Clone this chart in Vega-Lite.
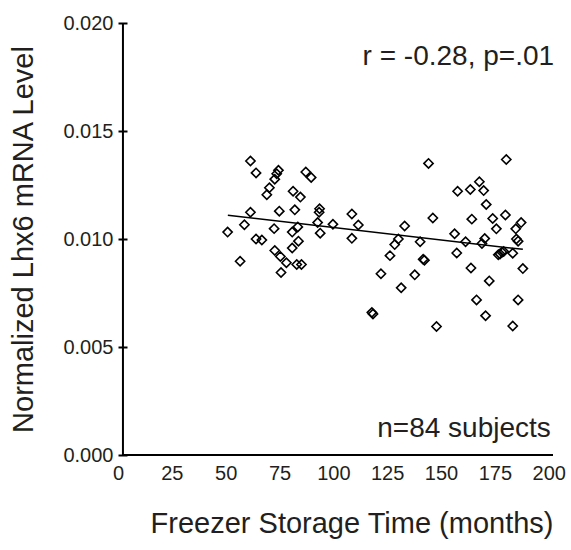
{
  "$schema": "https://vega.github.io/schema/vega-lite/v6.json",
  "width": 435,
  "height": 432,
  "autosize": {"type": "none"},
  "padding": {"left": 118, "top": 23, "right": 18, "bottom": 95},
  "config": {
    "view": {"stroke": null},
    "font": "Liberation Sans",
    "axis": {"grid": false}
  },
  "datasets": {
    "points": [
      {"months": 50.9, "level": 0.01032},
      {"months": 56.7, "level": 0.00897},
      {"months": 58.7, "level": 0.01066},
      {"months": 61.5, "level": 0.01124},
      {"months": 61.5, "level": 0.01361},
      {"months": 64.1, "level": 0.01306},
      {"months": 64.1, "level": 0.01000},
      {"months": 66.8, "level": 0.00995},
      {"months": 69.1, "level": 0.01205},
      {"months": 70.3, "level": 0.01237},
      {"months": 72.8, "level": 0.01277},
      {"months": 73.7, "level": 0.01302},
      {"months": 74.5, "level": 0.01318},
      {"months": 72.5, "level": 0.01048},
      {"months": 72.8, "level": 0.00947},
      {"months": 74.9, "level": 0.01129},
      {"months": 75.4, "level": 0.00919},
      {"months": 75.7, "level": 0.00845},
      {"months": 78.2, "level": 0.00890},
      {"months": 80.9, "level": 0.00958},
      {"months": 81.3, "level": 0.01221},
      {"months": 82.1, "level": 0.01135},
      {"months": 80.9, "level": 0.01032},
      {"months": 83.5, "level": 0.01056},
      {"months": 83.8, "level": 0.00990},
      {"months": 84.7, "level": 0.01194},
      {"months": 83.0, "level": 0.00882},
      {"months": 85.2, "level": 0.00882},
      {"months": 87.2, "level": 0.01310},
      {"months": 89.7, "level": 0.01285},
      {"months": 92.7, "level": 0.01076},
      {"months": 93.4, "level": 0.01124},
      {"months": 93.6, "level": 0.01140},
      {"months": 93.9, "level": 0.01027},
      {"months": 99.8, "level": 0.01068},
      {"months": 108.6, "level": 0.01116},
      {"months": 108.6, "level": 0.01003},
      {"months": 111.6, "level": 0.01065},
      {"months": 117.9, "level": 0.00660},
      {"months": 118.4, "level": 0.00653},
      {"months": 122.1, "level": 0.00839},
      {"months": 126.3, "level": 0.00923},
      {"months": 128.5, "level": 0.00974},
      {"months": 130.2, "level": 0.01000},
      {"months": 131.5, "level": 0.00774},
      {"months": 133.1, "level": 0.01060},
      {"months": 137.8, "level": 0.00834},
      {"months": 140.3, "level": 0.00987},
      {"months": 141.7, "level": 0.00906},
      {"months": 142.3, "level": 0.00902},
      {"months": 144.2, "level": 0.01350},
      {"months": 146.2, "level": 0.01097},
      {"months": 147.9, "level": 0.00595},
      {"months": 156.3, "level": 0.01024},
      {"months": 157.3, "level": 0.00935},
      {"months": 157.7, "level": 0.01221},
      {"months": 161.4, "level": 0.00987},
      {"months": 163.6, "level": 0.01229},
      {"months": 163.9, "level": 0.00866},
      {"months": 164.3, "level": 0.01092},
      {"months": 166.5, "level": 0.00718},
      {"months": 167.8, "level": 0.01265},
      {"months": 169.0, "level": 0.00979},
      {"months": 169.8, "level": 0.01224},
      {"months": 170.3, "level": 0.01002},
      {"months": 170.7, "level": 0.00645},
      {"months": 171.0, "level": 0.01160},
      {"months": 172.4, "level": 0.00806},
      {"months": 174.0, "level": 0.01095},
      {"months": 175.7, "level": 0.01047},
      {"months": 176.6, "level": 0.00927},
      {"months": 177.4, "level": 0.00931},
      {"months": 178.3, "level": 0.00939},
      {"months": 179.1, "level": 0.00942},
      {"months": 179.9, "level": 0.01111},
      {"months": 180.3, "level": 0.01368},
      {"months": 183.3, "level": 0.00934},
      {"months": 183.3, "level": 0.00597},
      {"months": 184.7, "level": 0.01047},
      {"months": 185.0, "level": 0.01000},
      {"months": 185.8, "level": 0.00990},
      {"months": 185.8, "level": 0.00718},
      {"months": 187.2, "level": 0.01076},
      {"months": 188.0, "level": 0.00863}
    ],
    "fit": [
      {"months": 51, "level": 0.01110},
      {"months": 188, "level": 0.00952}
    ],
    "blank": [{}]
  },
  "layer": [
    {
      "data": {"name": "points"},
      "mark": {"type": "point", "shape": "diamond", "filled": false, "size": 85, "strokeWidth": 1.6, "color": "#000000", "opacity": 1},
      "encoding": {
        "x": {
          "field": "months", "type": "quantitative",
          "scale": {"domain": [0, 202], "nice": false, "zero": false},
          "axis": {
            "domain": false, "ticks": false, "tickSize": 0,
            "values": [0, 25, 50, 75, 100, 125, 150, 175, 200],
            "labelFlush": false, "labelOverlap": false,
            "labelPadding": 8, "labelFontSize": 20, "labelColor": "#231f20",
            "title": "Freezer Storage Time (months)",
            "titleFontSize": 29, "titleFontWeight": "normal", "titleColor": "#231f20",
            "titlePadding": 26, "titleAnchor": "end"
          }
        },
        "y": {
          "field": "level", "type": "quantitative",
          "scale": {"domain": [0, 0.02], "nice": false, "zero": false},
          "axis": {
            "domain": false, "tickSize": 9, "tickWidth": 2, "tickColor": "#000000",
            "offset": -9,
            "values": [0, 0.005, 0.01, 0.015, 0.02], "format": ".3f",
            "labelPadding": 5, "labelFontSize": 20, "labelColor": "#231f20",
            "labelOverlap": false, "labelFlush": false,
            "title": "Normalized Lhx6 mRNA Level",
            "titleFontSize": 29, "titleFontWeight": "normal", "titleColor": "#231f20",
            "titlePadding": 24
          }
        }
      }
    },
    {
      "data": {"name": "fit"},
      "mark": {"type": "line", "color": "#000000", "strokeWidth": 1.5},
      "encoding": {
        "x": {"field": "months", "type": "quantitative"},
        "y": {"field": "level", "type": "quantitative"}
      }
    },
    {
      "data": {"name": "blank"},
      "mark": {"type": "rule", "color": "#000000", "strokeWidth": 2},
      "encoding": {"x": {"datum": 2.3}, "y": {"datum": 0}, "y2": {"datum": 0.02}}
    },
    {
      "data": {"name": "blank"},
      "mark": {"type": "rule", "color": "#000000", "strokeWidth": 2},
      "encoding": {"x": {"datum": 2.3}, "x2": {"datum": 202}, "y": {"datum": 0}}
    },
    {
      "data": {"name": "blank"},
      "mark": {"type": "text", "align": "right", "baseline": "alphabetic", "fontSize": 28, "color": "#231f20"},
      "encoding": {"x": {"datum": 202.5}, "y": {"datum": 0.01804}, "text": {"value": "r = -0.28, p=.01"}}
    },
    {
      "data": {"name": "blank"},
      "mark": {"type": "text", "align": "right", "baseline": "alphabetic", "fontSize": 28, "color": "#231f20"},
      "encoding": {"x": {"datum": 201}, "y": {"datum": 0.00083}, "text": {"value": "n=84 subjects"}}
    }
  ]
}
